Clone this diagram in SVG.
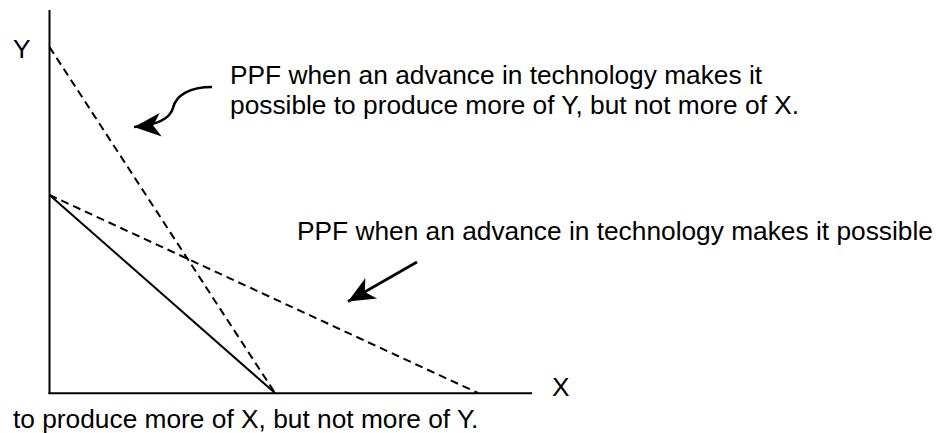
<svg xmlns="http://www.w3.org/2000/svg" width="945" height="433" viewBox="0 0 945 433">
<style>
text{font-family:"Liberation Sans",Arial,sans-serif;font-size:26.3px;fill:#000}
.ax{stroke:#000;stroke-width:2;fill:none}
.ppf{stroke:#000;stroke-width:2;fill:none}
.dash{stroke-dasharray:8,5}
.arr{stroke:#000;stroke-width:2.6;fill:none}
</style>
<defs>
<marker id="ah" markerUnits="userSpaceOnUse" markerWidth="30" markerHeight="30" viewBox="-26 -13 28 26" refX="0" refY="0" orient="auto">
<path d="M0,0 L-25,-11 L-18,0 L-25,11 Z" fill="#000"/>
</marker>
</defs>
<rect width="945" height="433" fill="#fff"/>
<g id="axes">
<line class="ax" x1="49.5" y1="10" x2="49.5" y2="394"/>
<line class="ax" x1="48.5" y1="393.3" x2="532" y2="393.3"/>
<text x="13" y="58">Y</text>
<text x="552" y="396">X</text>
</g>
<g id="ppf-original">
<line class="ppf" x1="49.5" y1="195" x2="275" y2="393"/>
</g>
<g id="ppf-more-y">
<line class="ppf dash" x1="49.5" y1="47" x2="275" y2="393"/>
</g>
<g id="ppf-more-x">
<line class="ppf dash" x1="49.5" y1="195" x2="478" y2="393"/>
</g>
<g id="label-more-y">
<text x="230" y="84">PPF when an advance in technology makes it</text>
<text x="230" y="114">possible to produce more of Y, but not more of X.</text>
</g>
<g id="label-more-x">
<text x="297" y="240">PPF when an advance in technology makes it possible</text>
<text x="13" y="428">to produce more of X, but not more of Y.</text>
</g>
<g id="connectors">
<path class="arr" d="M212,87 C190,87 176,95 173,108 C170,119 158,125 134,127" marker-end="url(#ah)"/>
<line class="arr" x1="417" y1="262" x2="348" y2="301.5" marker-end="url(#ah)"/>
</g>
</svg>
